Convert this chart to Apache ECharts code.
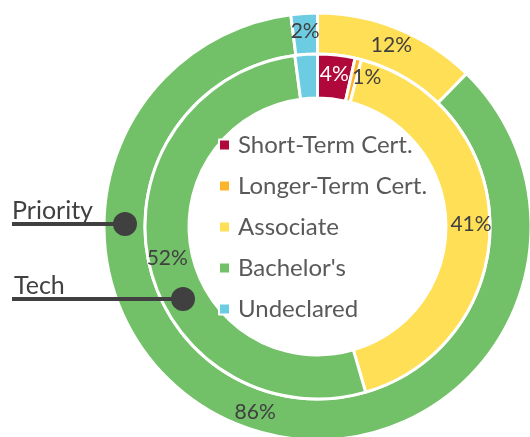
<!DOCTYPE html>
<html>
<head>
<meta charset="utf-8">
<script src="https://cdn.jsdelivr.net/npm/echarts@6/dist/echarts.min.js"></script>
<style>
  html, body { margin: 0; padding: 0; background: #fff; }
  #chart { width: 530px; height: 437px; }
</style>
</head>
<body>
<div id="chart"></div>
<script>
// data
const categories = ['Short-Term Cert.', 'Longer-Term Cert.', 'Associate', "Bachelor's", 'Undeclared'];
const techValues = [3.5, 0.6, 41.4, 52.4, 2.1];
const priorityValues = [0, 0, 12.3, 85.7, 2.0];
const colors = ['#B0083A', '#FDB42A', '#FFDF55', '#72C168', '#6CCDE2'];
const ringNames = ['Priority', 'Tech'];

const cx = 317.5, cy = 226.5;

function pieData(values) {
  return categories.map((name, i) => ({
    name,
    value: values[i],
    itemStyle: { color: colors[i] },
    label: i === 0 ? { color: '#fff' } : (i === 1 ? { padding: [6, 0, 0, 26] } : {}),
  }));
}

const labelStyle = {
  show: true,
  position: 'inside',
  fontFamily: 'Lato',
  fontSize: 21,
  color: '#404040',
  formatter: p => (p.value > 0 ? Math.round(p.percent) + '%' : ''),
};

const chart = echarts.init(document.getElementById('chart'));
chart.setOption({
  animation: false,
  legend: {
    orient: 'vertical',
    left: 213,
    top: 128,
    icon: 'rect',
    itemWidth: 11,
    itemHeight: 11,
    itemGap: 17,
    selectedMode: false,
    data: categories,
    textStyle: {
      fontFamily: 'Lato',
      fontSize: 24,
      lineHeight: 24,
      color: '#595959',
      padding: [0, 0, 0, 3],
    },
  },
  series: [
    {
      name: ringNames[0],
      type: 'pie',
      center: [cx, cy],
      radius: [172.5, 213.5],
      startAngle: 90,
      silent: true,
      itemStyle: { borderColor: '#fff', borderWidth: 3 },
      label: labelStyle,
      labelLine: { show: false },
      data: pieData(priorityValues),
    },
    {
      name: ringNames[1],
      type: 'pie',
      center: [cx, cy],
      radius: [128.5, 172.5],
      startAngle: 90,
      silent: true,
      itemStyle: { borderColor: '#fff', borderWidth: 3 },
      label: labelStyle,
      labelLine: { show: false },
      data: pieData(techValues),
    },
  ],
  graphic: [
    { type: 'line', z: 100, shape: { x1: 12, y1: 224, x2: 125, y2: 224 }, style: { stroke: '#404040', lineWidth: 4 } },
    { type: 'circle', z: 100, shape: { cx: 125, cy: 224, r: 12 }, style: { fill: '#404040' } },
    { type: 'text', z: 100, left: 12, top: 198, style: { text: ringNames[0], font: '25px Lato', fill: '#404040' } },
    { type: 'line', z: 100, shape: { x1: 12, y1: 299, x2: 183, y2: 299 }, style: { stroke: '#404040', lineWidth: 4 } },
    { type: 'circle', z: 100, shape: { cx: 183, cy: 299, r: 12 }, style: { fill: '#404040' } },
    { type: 'text', z: 100, left: 14, top: 273, style: { text: ringNames[1], font: '25px Lato', fill: '#404040' } },
  ],
});
</script>
</body>
</html>
